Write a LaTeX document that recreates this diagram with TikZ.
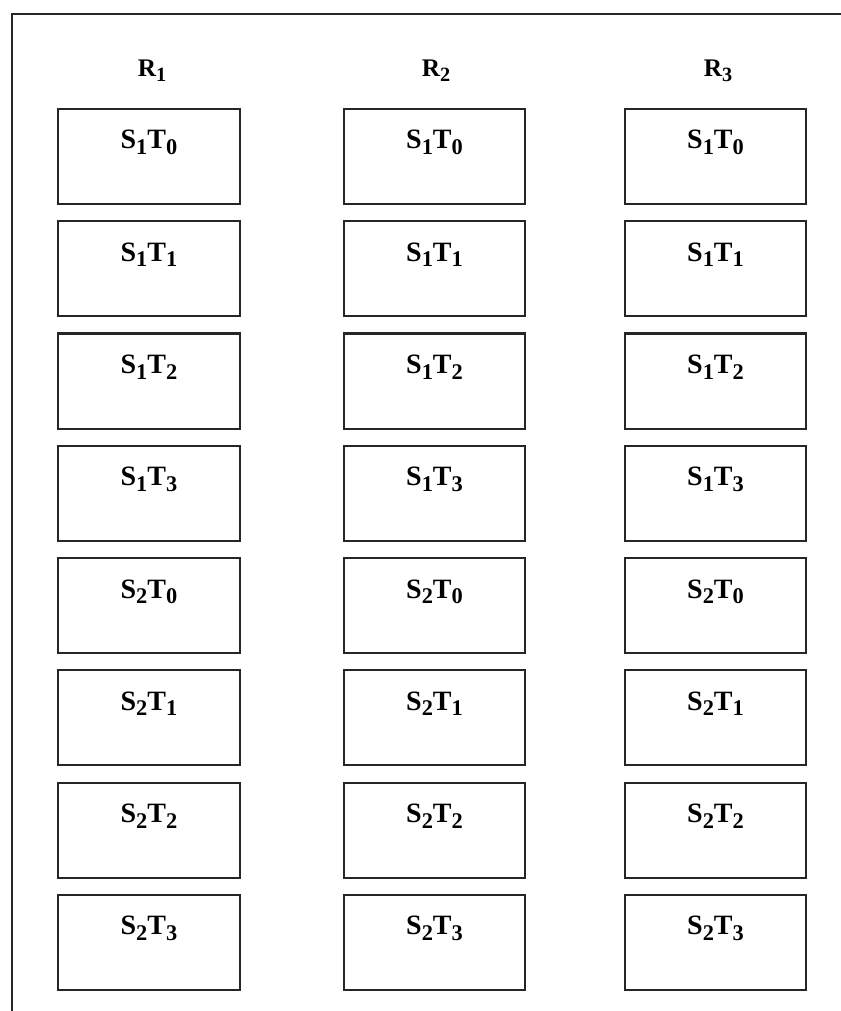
\documentclass[tikz,border=0pt]{standalone}
\usepackage{fontspec}
\setmainfont{Liberation Serif}
\usetikzlibrary{positioning}
\newcommand\lowix[1]{\raisebox{-0.2em}{\scalebox{0.8}{#1}}}
\tikzset{
  frame/.style = {draw=black!85, line width=1.6pt},
  cell/.style  = {draw=black!85, line width=1.6pt, fill=white,
                  minimum width=136pt, inner xsep=0pt, inner ysep=0pt,
                  text height=30pt, text depth=41.3pt, align=center,
                  font=\fontsize{21}{24}\selectfont\bfseries},
  head/.style  = {anchor=base, font=\fontsize{19}{22}\selectfont\bfseries},
}
\begin{document}
\begin{tikzpicture}[x=0.75pt, y=0.75pt, node distance=11.3pt]

\useasboundingbox (0,0) rectangle (841,-1011);
\draw[frame] (12,-1011) -- (12,-14) -- (841,-14);

% column heads
\node[head] (h1) at (152,-76) {R\lowix{1}};
\node[head] (h2) at (436,-76) {R\lowix{2}};
\node[head] (h3) at (718,-76) {R\lowix{3}};

% first column
\node[cell] (a0) at (149,-156.5) {S\lowix{1}T\lowix{0}};
\node[cell, below=of a0] (a1) {S\lowix{1}T\lowix{1}};
\node[cell, below=of a1] (a2) {S\lowix{1}T\lowix{2}};
\node[cell, below=of a2] (a3) {S\lowix{1}T\lowix{3}};
\node[cell, below=of a3] (a4) {S\lowix{2}T\lowix{0}};
\node[cell, below=of a4] (a5) {S\lowix{2}T\lowix{1}};
\node[cell, below=of a5] (a6) {S\lowix{2}T\lowix{2}};
\node[cell, below=of a6] (a7) {S\lowix{2}T\lowix{3}};

% second column
\node[cell] (b0) at (434.5,-156.5) {S\lowix{1}T\lowix{0}};
\node[cell, below=of b0] (b1) {S\lowix{1}T\lowix{1}};
\node[cell, below=of b1] (b2) {S\lowix{1}T\lowix{2}};
\node[cell, below=of b2] (b3) {S\lowix{1}T\lowix{3}};
\node[cell, below=of b3] (b4) {S\lowix{2}T\lowix{0}};
\node[cell, below=of b4] (b5) {S\lowix{2}T\lowix{1}};
\node[cell, below=of b5] (b6) {S\lowix{2}T\lowix{2}};
\node[cell, below=of b6] (b7) {S\lowix{2}T\lowix{3}};

% third column
\node[cell] (c0) at (715.5,-156.5) {S\lowix{1}T\lowix{0}};
\node[cell, below=of c0] (c1) {S\lowix{1}T\lowix{1}};
\node[cell, below=of c1] (c2) {S\lowix{1}T\lowix{2}};
\node[cell, below=of c2] (c3) {S\lowix{1}T\lowix{3}};
\node[cell, below=of c3] (c4) {S\lowix{2}T\lowix{0}};
\node[cell, below=of c4] (c5) {S\lowix{2}T\lowix{1}};
\node[cell, below=of c5] (c6) {S\lowix{2}T\lowix{2}};
\node[cell, below=of c6] (c7) {S\lowix{2}T\lowix{3}};

\end{tikzpicture}
\end{document}
